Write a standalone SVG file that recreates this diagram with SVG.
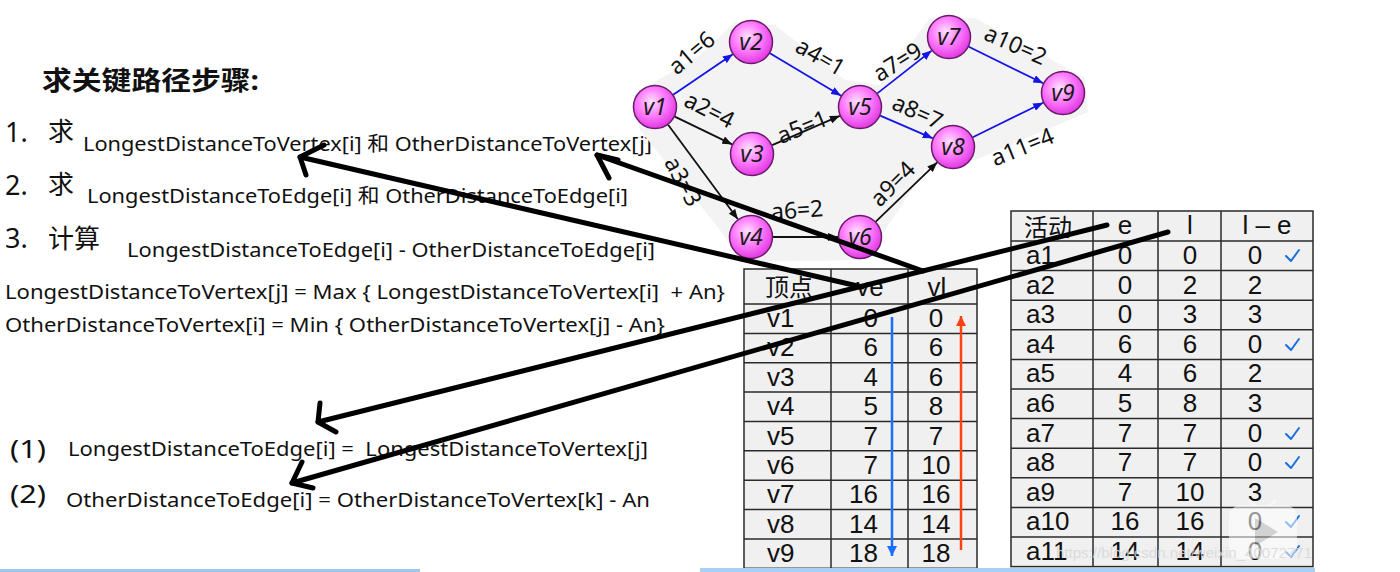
<svg xmlns="http://www.w3.org/2000/svg" width="1400" height="572" viewBox="0 0 1400 572">
<defs>
<radialGradient id="ng" cx="0.42" cy="0.38" r="0.62">
<stop offset="0" stop-color="#ffe2ff"/>
<stop offset="0.5" stop-color="#ff80ff"/>
<stop offset="1" stop-color="#e23ae2"/>
</radialGradient>
<marker id="mb" viewBox="0 0 10 8" refX="10" refY="4" markerWidth="10" markerHeight="8" markerUnits="userSpaceOnUse" orient="auto"><path d="M0,0 L10,4 L0,8 z" fill="#1414e6"/></marker>
<marker id="mk" viewBox="0 0 10 8" refX="10" refY="4" markerWidth="10" markerHeight="8" markerUnits="userSpaceOnUse" orient="auto"><path d="M0,0 L10,4 L0,8 z" fill="#111"/></marker>
<marker id="mtb" viewBox="0 0 10 10" refX="10" refY="5" markerWidth="10" markerHeight="10" markerUnits="userSpaceOnUse" orient="auto"><path d="M0,0 L10,5 L0,10 z" fill="#1a6fff"/></marker>
<marker id="mtr" viewBox="0 0 10 10" refX="10" refY="5" markerWidth="10" markerHeight="10" markerUnits="userSpaceOnUse" orient="auto"><path d="M0,0 L10,5 L0,10 z" fill="#ff4010"/></marker>
</defs>
<style>
.t{font-family:"Noto Sans","Noto Sans CJK SC",sans-serif;fill:#111;white-space:pre}
.node circle{fill:url(#ng);stroke:#6b1a6b;stroke-width:1.5}
.node text{font-family:"Noto Sans",sans-serif;font-style:italic;font-size:23px;text-anchor:middle;fill:#1a1a1a}
.e{fill:none;stroke-width:1.8}
.eb{stroke:#1414e6}
.ek{stroke:#111}
.el{font-family:"Noto Sans",sans-serif;font-size:23px;text-anchor:middle;dominant-baseline:central;fill:#111}
.big{fill:none;stroke:#000;stroke-width:5;stroke-linecap:round;stroke-linejoin:round}
.cell{fill:#f0f0f0;stroke:#2a2a2a;stroke-width:1.5}
.grid{stroke:#2a2a2a;stroke-width:1.5;fill:none}
.tb{font-family:"Liberation Sans","Noto Sans CJK SC",sans-serif;font-size:26px;fill:#111}
.th{font-family:"Noto Sans CJK SC",sans-serif;font-size:24px;fill:#111}
.m{text-anchor:middle}
.r{text-anchor:end}
.ck{fill:none;stroke:#1a6fe0;stroke-width:2;stroke-linecap:round;stroke-linejoin:round}
</style>
<rect width="1400" height="572" fill="#ffffff"/>

<!-- left text -->
<g id="steps">
<text class="t" x="42" y="90" font-size="26" font-weight="bold" textLength="217" lengthAdjust="spacingAndGlyphs">求关键路径步骤:</text>
<text class="t" x="5" y="142" font-size="27">1.</text>
<text class="t" x="48" y="141" font-size="26">求</text>
<text class="t" x="83" y="151" font-size="20" textLength="569" lengthAdjust="spacingAndGlyphs">LongestDistanceToVertex[i] 和 OtherDistanceToVertex[j]</text>
<text class="t" x="5" y="195" font-size="27">2.</text>
<text class="t" x="48" y="194" font-size="26">求</text>
<text class="t" x="87" y="203" font-size="20" textLength="541" lengthAdjust="spacingAndGlyphs">LongestDistanceToEdge[i] 和 OtherDistanceToEdge[i]</text>
<text class="t" x="5" y="248" font-size="27">3.</text>
<text class="t" x="48" y="248" font-size="26">计算</text>
<text class="t" x="127" y="257" font-size="20" textLength="528" lengthAdjust="spacingAndGlyphs">LongestDistanceToEdge[i] - OtherDistanceToEdge[i]</text>
<text class="t" x="5" y="299" font-size="20" textLength="720" lengthAdjust="spacingAndGlyphs">LongestDistanceToVertex[j] = Max { LongestDistanceToVertex[i]  + An}</text>
<text class="t" x="5" y="332" font-size="20" textLength="660" lengthAdjust="spacingAndGlyphs">OtherDistanceToVertex[i] = Min { OtherDistanceToVertex[j] - An}</text>
<text class="t" x="10" y="458" font-size="26" textLength="36" lengthAdjust="spacingAndGlyphs">(1)</text>
<text class="t" x="68" y="456" font-size="20" textLength="580" lengthAdjust="spacingAndGlyphs">LongestDistanceToEdge[i] =  LongestDistanceToVertex[j]</text>
<text class="t" x="10" y="503" font-size="26" textLength="36" lengthAdjust="spacingAndGlyphs">(2)</text>
<text class="t" x="66" y="507" font-size="20" textLength="584" lengthAdjust="spacingAndGlyphs">OtherDistanceToEdge[i] = OtherDistanceToVertex[k] - An</text>
</g>

<!-- graph background -->
<polygon points="633,95 700,55 735,22 775,25 845,80 880,85 930,18 975,18 1085,78 1088,112 975,160 925,170 885,230 860,260 740,262 720,230 640,130" fill="#f3f3f3"/>

<!-- graph edges -->
<g id="graph-edges">
<line class="e eb" x1="673.2" y1="94.7" x2="732.8" y2="54.3" marker-end="url(#mb)"/>
<line class="e ek" x1="674.8" y1="116.6" x2="732.2" y2="144.4" marker-end="url(#mk)"/>
<line class="e ek" x1="668.1" y1="124.7" x2="737.9" y2="219.3" marker-end="url(#mk)"/>
<line class="e eb" x1="769.9" y1="53.3" x2="841.1" y2="95.7" marker-end="url(#mb)"/>
<line class="e ek" x1="772.2" y1="145.2" x2="839.8" y2="115.8" marker-end="url(#mk)"/>
<line class="e ek" x1="773" y1="237" x2="838" y2="237" marker-end="url(#mk)"/>
<line class="e eb" x1="877.3" y1="93.4" x2="931.7" y2="50.6" marker-end="url(#mb)"/>
<line class="e eb" x1="880.2" y1="115.7" x2="932.8" y2="138.3" marker-end="url(#mb)"/>
<line class="e ek" x1="875.8" y1="221.7" x2="937.2" y2="162.3" marker-end="url(#mk)"/>
<line class="e eb" x1="968.8" y1="46.7" x2="1043.2" y2="83.3" marker-end="url(#mb)"/>
<line class="e eb" x1="972.8" y1="137.3" x2="1043.2" y2="102.7" marker-end="url(#mb)"/>
<text class="el" transform="translate(691,52) rotate(-40)">a1=6</text>
<text class="el" transform="translate(821,56) rotate(30)">a4=1</text>
<text class="el" transform="translate(710,109) rotate(27)">a2=4</text>
<text class="el" transform="translate(802,126) rotate(-22)">a5=1</text>
<text class="el" transform="translate(684,181) rotate(62)">a3=3</text>
<text class="el" transform="translate(797,209) rotate(-4)">a6=2</text>
<text class="el" transform="translate(892,183) rotate(-45)">a9=4</text>
<text class="el" transform="translate(897,61) rotate(-32)">a7=9</text>
<text class="el" transform="translate(918,111) rotate(24)">a8=7</text>
<text class="el" transform="translate(1016,44) rotate(24)">a10=2</text>
<text class="el" transform="translate(1022,146) rotate(-22)">a11=4</text>
</g>

<g id="v1" class="node"><circle cx="655" cy="107" r="21.5"/><text x="655" y="115">v1</text></g>
<g id="v2" class="node"><circle cx="751" cy="42" r="21.5"/><text x="751" y="50">v2</text></g>
<g id="v3" class="node"><circle cx="752" cy="154" r="21.5"/><text x="752" y="162">v3</text></g>
<g id="v4" class="node"><circle cx="751" cy="237" r="21.5"/><text x="751" y="245">v4</text></g>
<g id="v5" class="node"><circle cx="860" cy="107" r="21.5"/><text x="860" y="115">v5</text></g>
<g id="v6" class="node"><circle cx="860" cy="237" r="21.5"/><text x="860" y="245">v6</text></g>
<g id="v7" class="node"><circle cx="949" cy="37" r="21.5"/><text x="949" y="45">v7</text></g>
<g id="v8" class="node"><circle cx="953" cy="147" r="21.5"/><text x="953" y="155">v8</text></g>
<g id="v9" class="node"><circle cx="1063" cy="93" r="21.5"/><text x="1063" y="101">v9</text></g>

<!-- vertex table -->
<g id="vertex-table">
<rect class="cell" x="744" y="269" width="233" height="299.3"/>
<path class="grid" d="M831,269 V568.3 M908,269 V568.3 M744,304 H977 M744,333.4 H977 M744,362.7 H977 M744,392.1 H977 M744,421.5 H977 M744,450.8 H977 M744,480.2 H977 M744,509.6 H977 M744,538.9 H977"/>
<text class="th" x="765" y="296">顶点</text>
<text class="tb m" x="870" y="296">ve</text>
<text class="tb m" x="937" y="296">vl</text>
<g class="tb">
<text x="767" y="327">v1</text><text class="r" x="878" y="327">0</text><text class="m" x="936" y="327">0</text>
<text x="767" y="356.4">v2</text><text class="r" x="878" y="356.4">6</text><text class="m" x="936" y="356.4">6</text>
<text x="767" y="385.7">v3</text><text class="r" x="878" y="385.7">4</text><text class="m" x="936" y="385.7">6</text>
<text x="767" y="415.1">v4</text><text class="r" x="878" y="415.1">5</text><text class="m" x="936" y="415.1">8</text>
<text x="767" y="444.5">v5</text><text class="r" x="878" y="444.5">7</text><text class="m" x="936" y="444.5">7</text>
<text x="767" y="473.8">v6</text><text class="r" x="878" y="473.8">7</text><text class="m" x="936" y="473.8">10</text>
<text x="767" y="503.2">v7</text><text class="r" x="878" y="503.2">16</text><text class="m" x="936" y="503.2">16</text>
<text x="767" y="532.6">v8</text><text class="r" x="878" y="532.6">14</text><text class="m" x="936" y="532.6">14</text>
<text x="767" y="561.9">v9</text><text class="r" x="878" y="561.9">18</text><text class="m" x="936" y="561.9">18</text>
</g>
<line x1="892" y1="317" x2="892" y2="556" stroke="#1a6fff" stroke-width="2.5" marker-end="url(#mtb)"/>
<line x1="961" y1="550" x2="961" y2="316" stroke="#ff4010" stroke-width="2.5" marker-end="url(#mtr)"/>
</g>

<!-- activity table -->
<g id="activity-table">
<rect class="cell" x="1011" y="211" width="302" height="355.6"/>
<path class="grid" d="M1093,211 V566.6 M1158,211 V566.6 M1221,211 V566.6 M1011,241 H1313 M1011,270.6 H1313 M1011,300.2 H1313 M1011,329.8 H1313 M1011,359.4 H1313 M1011,389 H1313 M1011,418.6 H1313 M1011,448.2 H1313 M1011,477.8 H1313 M1011,507.4 H1313 M1011,537 H1313"/>
<text class="th" x="1024" y="236">活动</text>
<text class="tb m" x="1125" y="234">e</text>
<text class="tb m" x="1190" y="234">l</text>
<text class="tb m" x="1267" y="234">l – e</text>
<g class="tb">
<text x="1026" y="264">a1</text><text class="m" x="1125" y="264">0</text><text class="m" x="1190" y="264">0</text><text class="m" x="1255" y="264">0</text>
<text x="1026" y="293.6">a2</text><text class="m" x="1125" y="293.6">0</text><text class="m" x="1190" y="293.6">2</text><text class="m" x="1255" y="293.6">2</text>
<text x="1026" y="323.2">a3</text><text class="m" x="1125" y="323.2">0</text><text class="m" x="1190" y="323.2">3</text><text class="m" x="1255" y="323.2">3</text>
<text x="1026" y="352.8">a4</text><text class="m" x="1125" y="352.8">6</text><text class="m" x="1190" y="352.8">6</text><text class="m" x="1255" y="352.8">0</text>
<text x="1026" y="382.4">a5</text><text class="m" x="1125" y="382.4">4</text><text class="m" x="1190" y="382.4">6</text><text class="m" x="1255" y="382.4">2</text>
<text x="1026" y="412">a6</text><text class="m" x="1125" y="412">5</text><text class="m" x="1190" y="412">8</text><text class="m" x="1255" y="412">3</text>
<text x="1026" y="441.6">a7</text><text class="m" x="1125" y="441.6">7</text><text class="m" x="1190" y="441.6">7</text><text class="m" x="1255" y="441.6">0</text>
<text x="1026" y="471.2">a8</text><text class="m" x="1125" y="471.2">7</text><text class="m" x="1190" y="471.2">7</text><text class="m" x="1255" y="471.2">0</text>
<text x="1026" y="500.8">a9</text><text class="m" x="1125" y="500.8">7</text><text class="m" x="1190" y="500.8">10</text><text class="m" x="1255" y="500.8">3</text>
<text x="1026" y="530.4">a10</text><text class="m" x="1125" y="530.4">16</text><text class="m" x="1190" y="530.4">16</text><text class="m" x="1255" y="530.4">0</text>
<text x="1026" y="560">a11</text><text class="m" x="1125" y="560">14</text><text class="m" x="1190" y="560">14</text><text class="m" x="1255" y="560">0</text>
</g>
<path class="ck" d="M1286,256 l5,5 l8,-11"/>
<path class="ck" d="M1286,345 l5,5 l8,-11"/>
<path class="ck" d="M1286,434 l5,5 l8,-11"/>
<path class="ck" d="M1286,463 l5,5 l8,-11"/>
<path class="ck" d="M1286,522 l5,5 l8,-11"/>
<path class="ck" d="M1286,552 l5,5 l8,-11"/>
</g>

<!-- watermark overlay -->
<g opacity="0.55">
<rect x="1229" y="505" width="68" height="54" rx="12" fill="#ffffff"/>
<path d="M1249,500 L1256,507 M1276,500 L1269,507" stroke="#ffffff" stroke-width="3"/>
<path d="M1255,518 L1278,532 L1255,546 z" fill="#bbbbbb"/>
</g>
<text x="1056" y="558" font-family="Liberation Sans, sans-serif" font-size="14" fill="#d8d8d8" opacity="0.85" textLength="256" lengthAdjust="spacingAndGlyphs">https://blog.csdn.net/weixin_40072771</text>

<!-- bottom lines -->
<rect x="0" y="569" width="420" height="3" fill="#9cc8f0"/>
<rect x="700" y="568" width="615" height="4" fill="#a8d0f5"/>

<!-- annotation arrows -->
<g id="connectors">
<line class="big" x1="862" y1="287" x2="300" y2="157"/>
<polyline class="big" points="324,145 300,157 306,175"/>
<line class="big" x1="923" y1="271" x2="597" y2="155"/>
<polyline class="big" points="618,160 597,155 609,178"/>
<line class="big" x1="1107" y1="225" x2="318" y2="422"/>
<polyline class="big" points="320,403 318,422 336,432"/>
<line class="big" x1="1168" y1="232" x2="292" y2="483"/>
<polyline class="big" points="302,462 292,483 313,488"/>
</g>
</svg>
